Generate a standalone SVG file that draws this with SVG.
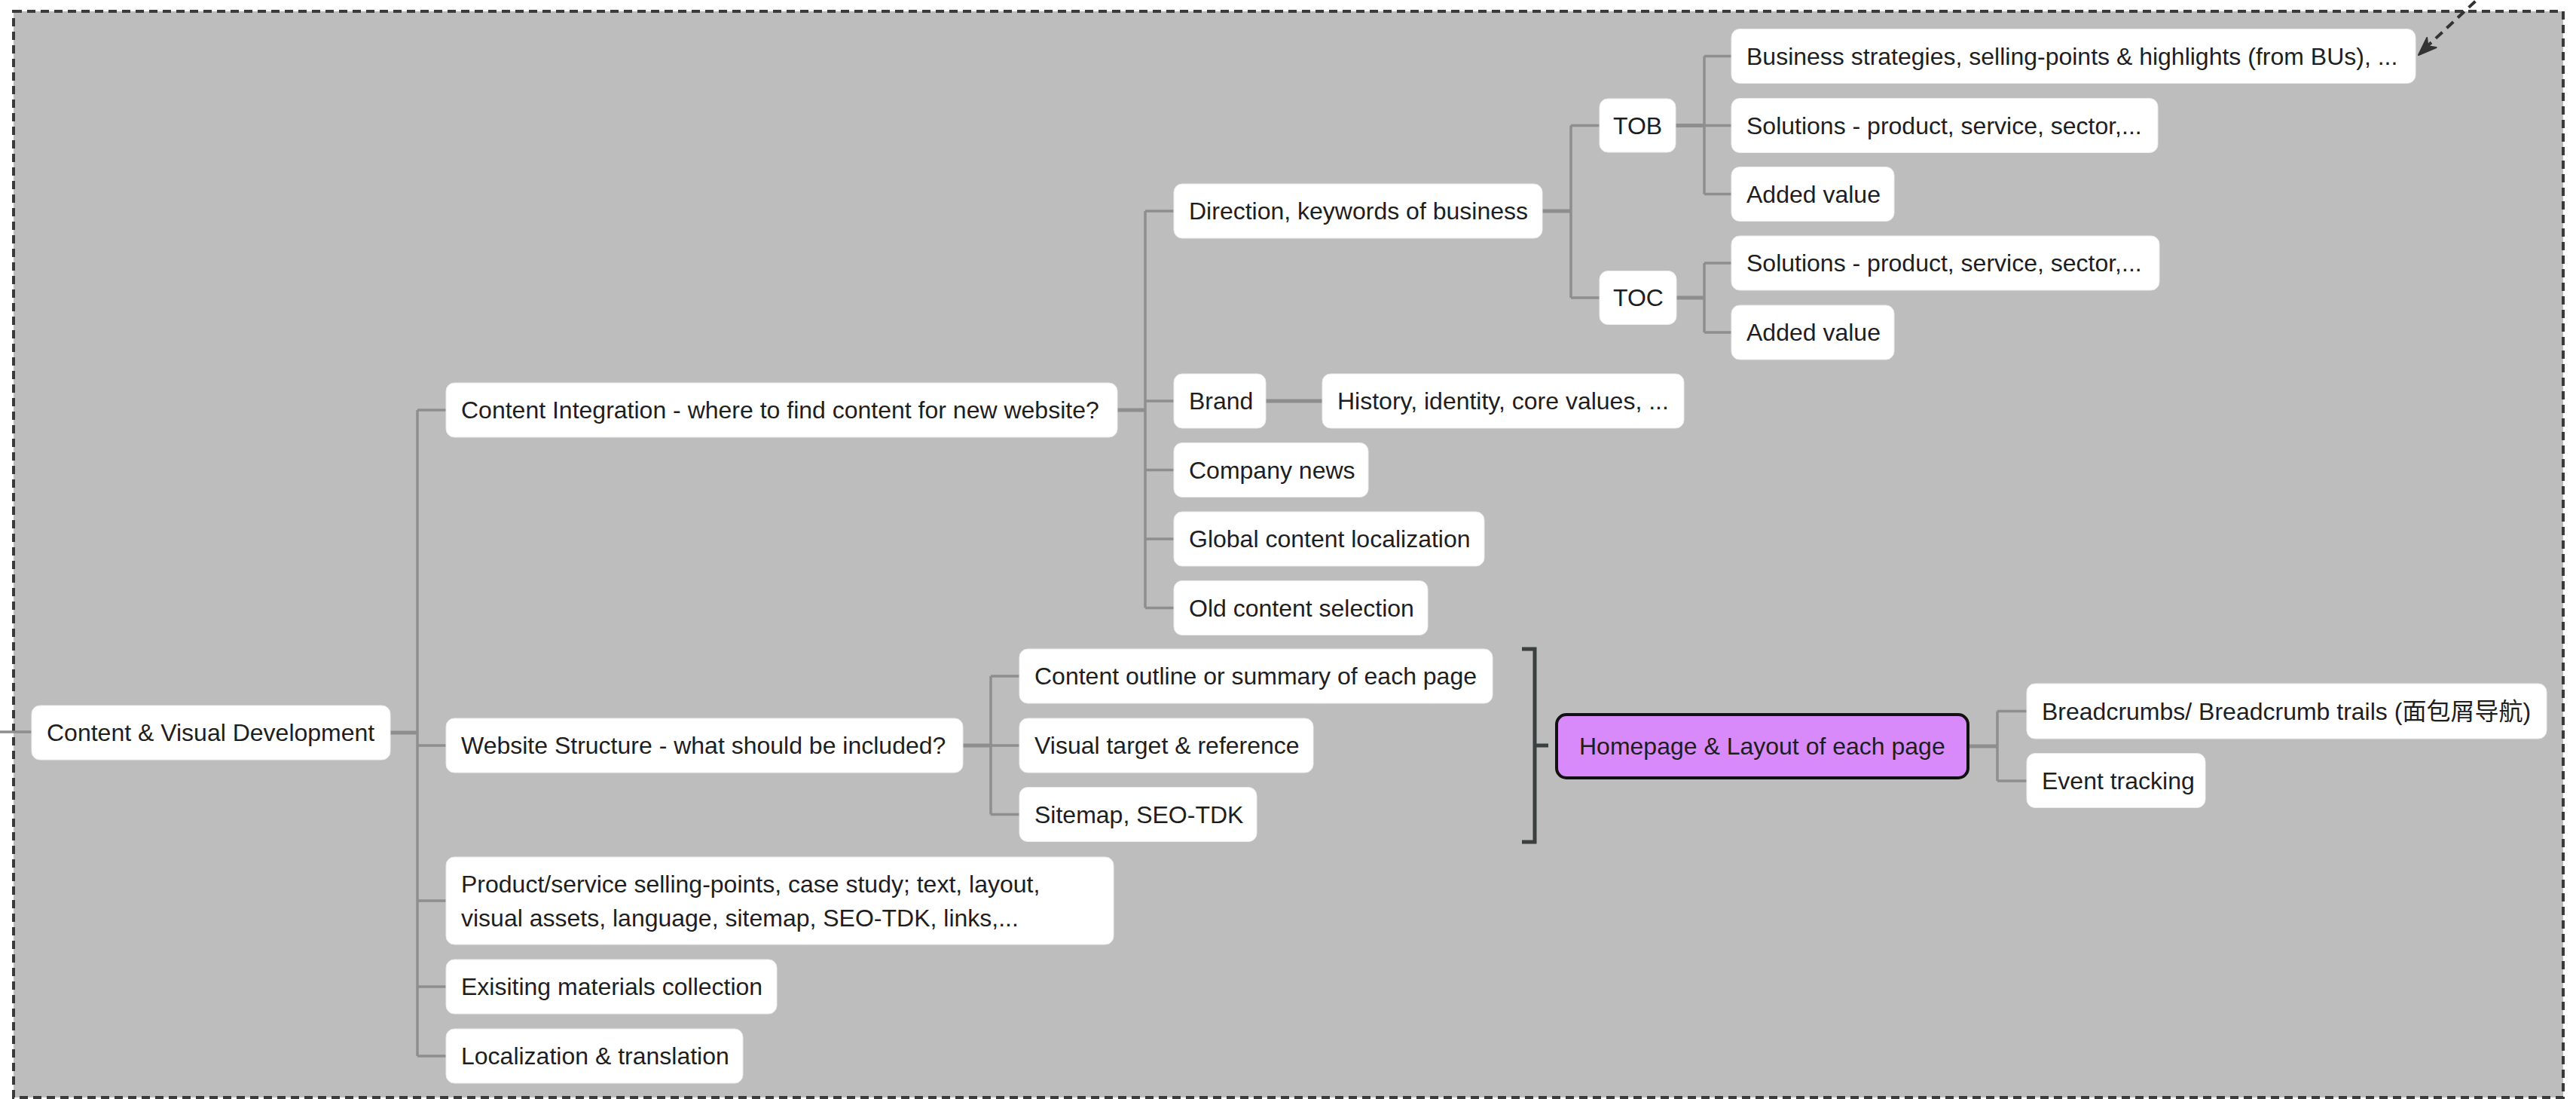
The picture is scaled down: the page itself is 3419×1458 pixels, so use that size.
<svg xmlns="http://www.w3.org/2000/svg" width="3419" height="1458" viewBox="0 0 3419 1458">
<style>
.node rect{fill:#ffffff;stroke:#ececec;stroke-width:1}
.node text,.hl text{font-family:"Liberation Sans",Arial,"Noto Sans CJK SC",sans-serif;font-size:32px;fill:#1e1e1e}
.hl rect{fill:#d88afa;stroke:#111111;stroke-width:4}
.c{fill:none;stroke:#8e8e8e;stroke-width:3.5}
.s{fill:none;stroke:#8e8e8e;stroke-width:5}
.br{fill:none;stroke:#3a3f3f;stroke-width:5}
</style>
<rect id="frame" x="18" y="15" width="3384" height="1441" fill="#bdbdbd" stroke="#3a3a3a" stroke-width="4" stroke-dasharray="11 7"/>
<g id="connectors">
<line class="c" x1="0" y1="971" x2="42" y2="971"/>
<path class="s" d="M518,972 H554"/>
<path class="c" d="M554,544 V1401 M554,544 H592 M554,989 H592 M554,1195 H592 M554,1309 H592 M554,1401 H592"/>
<path class="s" d="M1483,544 H1520"/>
<path class="c" d="M1520,280 V806.5 M1520,280 H1558 M1520,532 H1558 M1520,623.5 H1558 M1520,715 H1558 M1520,806.5 H1558"/>
<path class="s" d="M1680,532 H1755"/>
<path class="s" d="M2047,280 H2085"/>
<path class="c" d="M2085,166.5 V395 M2085,166.5 H2123 M2085,395 H2123"/>
<path class="s" d="M2224,166.5 H2262"/>
<path class="c" d="M2262,74.5 V257.5 M2262,74.5 H2298 M2262,166.5 H2298 M2262,257.5 H2298"/>
<path class="s" d="M2225,395 H2262"/>
<path class="c" d="M2262,349 V441 M2262,349 H2298 M2262,441 H2298"/>
<path class="s" d="M1278,989 H1315"/>
<path class="c" d="M1315,897 V1080.5 M1315,897 H1353 M1315,989 H1353 M1315,1080.5 H1353"/>
<path class="br" d="M2020,861 H2037 V1117 H2020 M2037,989 H2055"/>
<path class="s" d="M2612,990 H2651"/>
<path class="c" d="M2651,943.5 V1036 M2651,943.5 H2690 M2651,1036 H2690"/>
<line x1="3300" y1="-12" x2="3222" y2="61" stroke="#333333" stroke-width="4" stroke-dasharray="12 8"/>
<polygon points="3210,73 3233.6,63 3222.3,61.3 3221.2,50" fill="#333333" stroke="#333333" stroke-width="2" stroke-linejoin="round"/>
</g>
<g id="n-root" class="node"><rect x="42" y="936" width="476" height="72" rx="11"/><text x="62" y="983">Content &amp; Visual Development</text></g>
<g id="n-ci" class="node"><rect x="592" y="508" width="891" height="72" rx="11"/><text x="612" y="555">Content Integration - where to find content for new website?</text></g>
<g id="n-ws" class="node"><rect x="592" y="953" width="686" height="72" rx="11"/><text x="612" y="1000">Website Structure - what should be included?</text></g>
<g id="n-prod" class="node"><rect x="592" y="1137" width="886" height="116" rx="11"/><text x="612" y="1183.5">Product/service selling-points, case study; text, layout,</text><text x="612" y="1228.5">visual assets, language, sitemap, SEO-TDK, links,...</text></g>
<g id="n-exist" class="node"><rect x="592" y="1273" width="439" height="72" rx="11"/><text x="612" y="1320">Exisiting materials collection</text></g>
<g id="n-loc" class="node"><rect x="592" y="1365" width="394" height="72" rx="11"/><text x="612" y="1412">Localization &amp; translation</text></g>
<g id="n-dir" class="node"><rect x="1558" y="244" width="489" height="72" rx="11"/><text x="1578" y="291">Direction, keywords of business</text></g>
<g id="n-brand" class="node"><rect x="1558" y="496" width="122" height="72" rx="11"/><text x="1578" y="543">Brand</text></g>
<g id="n-history" class="node"><rect x="1755" y="496" width="480" height="72" rx="11"/><text x="1775" y="543">History, identity, core values, ...</text></g>
<g id="n-news" class="node"><rect x="1558" y="587.5" width="258" height="72" rx="11"/><text x="1578" y="634.5">Company news</text></g>
<g id="n-global" class="node"><rect x="1558" y="679" width="412" height="72" rx="11"/><text x="1578" y="726">Global content localization</text></g>
<g id="n-old" class="node"><rect x="1558" y="770.5" width="337" height="72" rx="11"/><text x="1578" y="817.5">Old content selection</text></g>
<g id="n-tob" class="node"><rect x="2123" y="131" width="101" height="71" rx="11"/><text x="2141" y="177.5">TOB</text></g>
<g id="n-toc" class="node"><rect x="2123" y="359.5" width="102" height="71" rx="11"/><text x="2141" y="406">TOC</text></g>
<g id="n-bs" class="node"><rect x="2298" y="38.5" width="908" height="72" rx="11"/><text x="2318" y="85.5">Business strategies, selling-points &amp; highlights (from BUs), ...</text></g>
<g id="n-sol1" class="node"><rect x="2298" y="130.5" width="566" height="72" rx="11"/><text x="2318" y="177.5">Solutions - product, service, sector,...</text></g>
<g id="n-av1" class="node"><rect x="2298" y="221.5" width="216" height="72" rx="11"/><text x="2318" y="268.5">Added value</text></g>
<g id="n-sol2" class="node"><rect x="2298" y="313" width="568" height="72" rx="11"/><text x="2318" y="360">Solutions - product, service, sector,...</text></g>
<g id="n-av2" class="node"><rect x="2298" y="405" width="216" height="72" rx="11"/><text x="2318" y="452">Added value</text></g>
<g id="n-outline" class="node"><rect x="1353" y="861" width="628" height="72" rx="11"/><text x="1373" y="908">Content outline or summary of each page</text></g>
<g id="n-visual" class="node"><rect x="1353" y="953" width="390" height="72" rx="11"/><text x="1373" y="1000">Visual target &amp; reference</text></g>
<g id="n-sitemap" class="node"><rect x="1353" y="1044.5" width="315" height="72" rx="11"/><text x="1373" y="1091.5">Sitemap, SEO-TDK</text></g>
<g id="n-home" class="hl"><rect x="2066" y="948" width="546" height="84" rx="13"/><text x="2096" y="1001">Homepage &amp; Layout of each page</text></g>
<g id="n-bread" class="node"><rect x="2690" y="907" width="690" height="73" rx="11"/><text x="2710" y="954.5">Breadcrumbs/ Breadcrumb trails (面包屑导航)</text></g>
<g id="n-event" class="node"><rect x="2690" y="999.5" width="237" height="72" rx="11"/><text x="2710" y="1046.5">Event tracking</text></g>
</svg>
